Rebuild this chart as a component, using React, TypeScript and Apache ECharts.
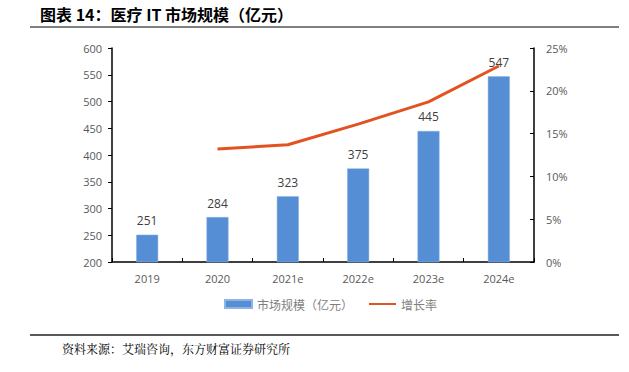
import React, { useEffect, useRef } from "react";
import * as echarts from "echarts";

const categories = ["2019", "2020", "2021e", "2022e", "2023e", "2024e"];
const marketSize = [251, 284, 323, 375, 445, 547];
const growthRate: (number | null)[] = [null, 13.2, 13.7, 16.1, 18.7, 22.9];
const leftTicks = [200, 250, 300, 350, 400, 450, 500, 550, 600];
const rightTicks = [0, 5, 10, 15, 20, 25];

const titleText = "图表 14：医疗 IT 市场规模（亿元）";
const sourceText = "资料来源：艾瑞咨询，东方财富证券研究所";

export default function App() {
  const ref = useRef<HTMLDivElement>(null);
  useEffect(() => {
    if (!ref.current) return;
    const chart = echarts.init(ref.current, undefined, { renderer: "svg" });
    const font = "'Open Sans', 'Noto Sans CJK SC', sans-serif";
    chart.setOption({
      animation: false,
      backgroundColor: "#ffffff",
      textStyle: { fontFamily: font },
      grid: { left: 112, right: 95, top: 48, bottom: 110, containLabel: false },
      legend: {
        bottom: 57,
        left: 219,
        itemGap: 15,
        itemWidth: 27,
        itemHeight: 8,
        textStyle: { color: "#7f7f7f", fontSize: 12, fontFamily: "'Noto Sans CJK SC', sans-serif" },
        data: [
          { name: "市场规模（亿元）", icon: "rect" },
          { name: "增长率", itemStyle: { opacity: 0 } },
        ],
      },
      xAxis: {
        type: "category",
        data: categories,
        axisLine: { lineStyle: { color: "#000000", width: 1.5 } },
        axisTick: { show: true, inside: true, length: 4, lineStyle: { color: "#000" } },
        axisLabel: { color: "#595959", fontSize: 11, margin: 11 },
      },
      yAxis: [
        {
          type: "value",
          min: leftTicks[0],
          max: leftTicks[leftTicks.length - 1],
          interval: 50,
          axisLine: { show: true, lineStyle: { color: "#000", width: 1.5 } },
          axisTick: { show: true, length: 4, lineStyle: { color: "#000" } },
          splitLine: { show: false },
          axisLabel: { color: "#595959", fontSize: 11, margin: 10 },
        },
        {
          type: "value",
          min: rightTicks[0],
          max: rightTicks[rightTicks.length - 1],
          interval: 5,
          position: "right",
          axisLine: { show: true, lineStyle: { color: "#000", width: 1.5 } },
          axisTick: { show: true, inside: true, length: 4, lineStyle: { color: "#000" } },
          splitLine: { show: false },
          axisLabel: { color: "#595959", fontSize: 11, margin: 12, formatter: "{value}%" },
        },
      ],
      series: [
        {
          name: "市场规模（亿元）",
          type: "bar",
          data: marketSize,
          barWidth: 22,
          itemStyle: { color: "#558ED5", borderColor: "#8DB4E2", borderWidth: 0.5 },
          label: { show: true, position: "top", distance: 8, color: "#404040", fontSize: 12 },
        },
        {
          name: "增长率",
          type: "line",
          yAxisIndex: 1,
          data: growthRate,
          symbol: "none",
          smooth: false,
          lineStyle: { color: "#E2531F", width: 3 },
          itemStyle: { color: "#E2531F" },
          z: 5,
        },
      ],
      graphic: [
        {
          type: "text",
          left: 40,
          top: 6,
          style: {
            text: titleText,
            font: "bold 16px 'Noto Sans CJK SC', sans-serif",
            fill: "#000",
          },
        },
        {
          type: "line",
          shape: { x1: 30, y1: 27, x2: 619, y2: 27 },
          style: { stroke: "#555", lineWidth: 1.5 },
        },
        {
          type: "line",
          shape: { x1: 30, y1: 335, x2: 619, y2: 335 },
          style: { stroke: "#222", lineWidth: 1.5 },
        },
        {
          type: "text",
          left: 62,
          top: 342,
          style: {
            text: sourceText,
            font: "12px 'Noto Serif CJK SC', 'Noto Sans CJK SC', serif",
            fill: "#000",
          },
        },
      ],
    });
    return () => chart.dispose();
  }, []);
  return <div ref={ref} style={{ width: 629, height: 372, position: "absolute", left: 0, top: 0 }} />;
}
